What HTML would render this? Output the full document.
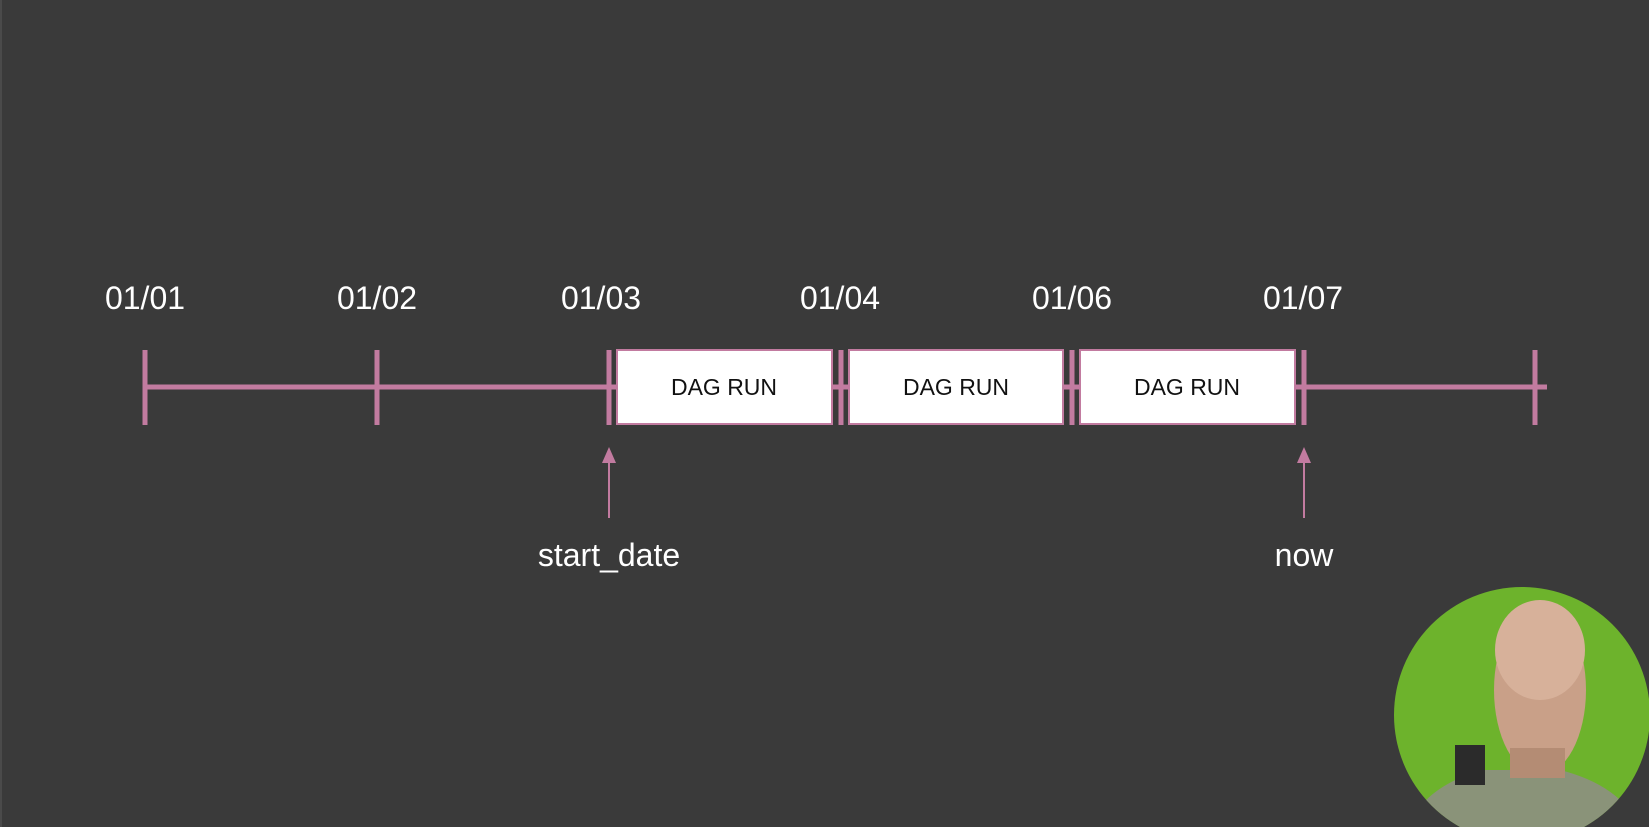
<!DOCTYPE html>
<html><head><meta charset="utf-8"><style>
html,body{margin:0;padding:0;background:#3a3a3a;width:1649px;height:827px;overflow:hidden}
</style></head><body>
<svg width="1649" height="827" xmlns="http://www.w3.org/2000/svg" style="position:absolute;left:0;top:0">
<rect width="1649" height="827" fill="#3a3a3a"/>
<line x1="1" y1="0" x2="1" y2="827" stroke="#4a4a4a" stroke-width="2"/>
<g fill="#ffffff" font-family="Liberation Sans, sans-serif" font-size="32" text-anchor="middle">
<text x="145" y="309">01/01</text>
<text x="377" y="309">01/02</text>
<text x="601" y="309">01/03</text>
<text x="840" y="309">01/04</text>
<text x="1072" y="309">01/06</text>
<text x="1303" y="309">01/07</text>
</g>
<line x1="145" y1="387" x2="1547" y2="387" stroke="#c27ba0" stroke-width="5"/>
<g stroke="#c27ba0" stroke-width="5">
<line x1="145" y1="350" x2="145" y2="425"/>
<line x1="377" y1="350" x2="377" y2="425"/>
<line x1="609" y1="350" x2="609" y2="425"/>
<line x1="841" y1="350" x2="841" y2="425"/>
<line x1="1072" y1="350" x2="1072" y2="425"/>
<line x1="1304" y1="350" x2="1304" y2="425"/>
<line x1="1535" y1="350" x2="1535" y2="425"/>
</g>
<g fill="#ffffff" stroke="#c27ba0" stroke-width="2">
<rect x="617" y="350" width="215" height="74"/>
<rect x="849" y="350" width="214" height="74"/>
<rect x="1080" y="350" width="215" height="74"/>
</g>
<g fill="#111" font-family="Liberation Sans, sans-serif" font-size="23" text-anchor="middle">
<text x="724" y="395">DAG RUN</text>
<text x="956" y="395">DAG RUN</text>
<text x="1187" y="395">DAG RUN</text>
</g>
<g stroke="#c27ba0" stroke-width="2"><line x1="609" y1="460" x2="609" y2="518"/><line x1="1304" y1="460" x2="1304" y2="518"/></g>
<g fill="#c27ba0"><polygon points="609,447 602,463 616,463"/><polygon points="1304,447 1297,463 1311,463"/></g>
<g fill="#ffffff" font-family="Liberation Sans, sans-serif" font-size="32" text-anchor="middle">
<text x="609" y="566">start_date</text>
<text x="1304" y="566">now</text>
</g>
<defs><clipPath id="c"><circle cx="1522" cy="715" r="128"/></clipPath></defs>
<circle cx="1522" cy="715" r="128" fill="#6db32c"/>
<g clip-path="url(#c)">
<path d="M1410 827 Q1420 790 1480 770 L1560 770 Q1620 785 1640 827 Z" fill="#8a9379"/>
<rect x="1455" y="745" width="30" height="40" fill="#2b2b2b"/>
<ellipse cx="1540" cy="690" rx="46" ry="85" fill="#c9a088"/>
<ellipse cx="1540" cy="650" rx="45" ry="50" fill="#d7b19a"/>
<rect x="1510" y="748" width="55" height="30" fill="#b48c74"/>
</g>
</svg>
</body></html>
